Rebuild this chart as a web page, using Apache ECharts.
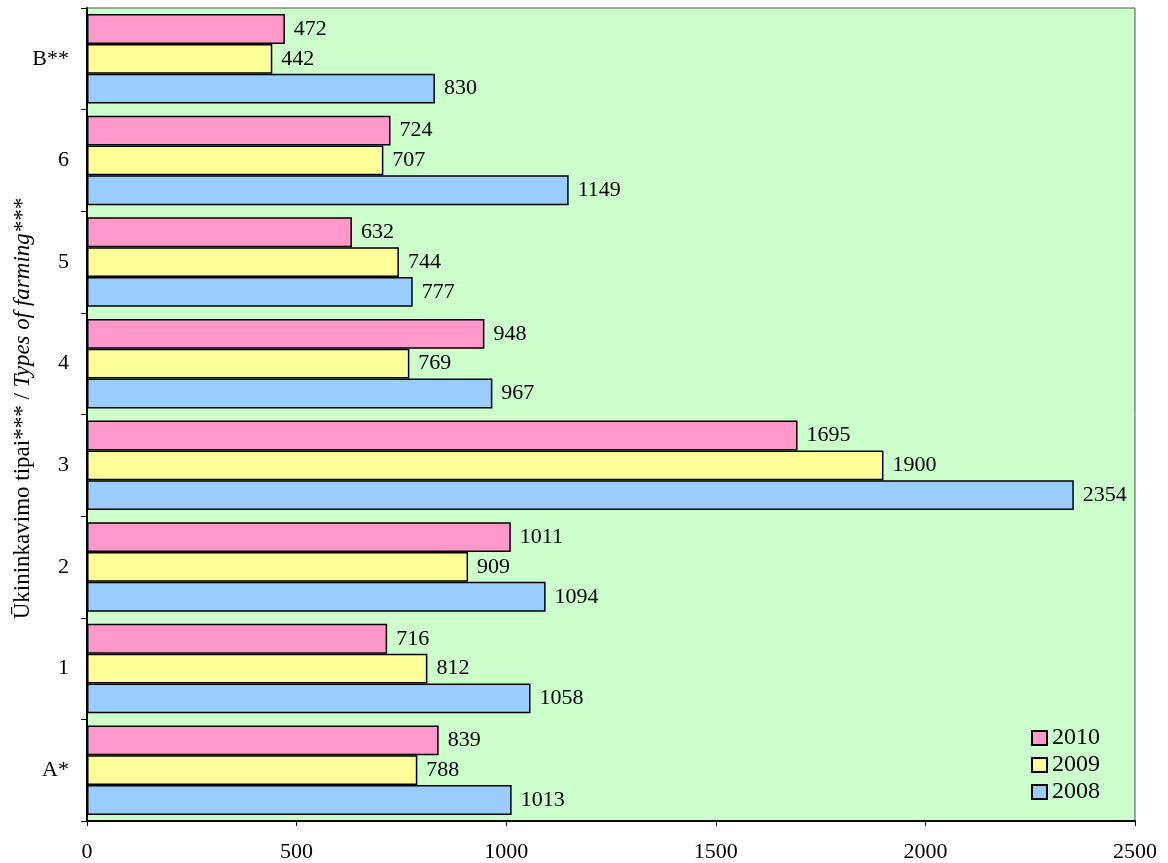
<!DOCTYPE html>
<html><head><meta charset="utf-8">
<script src="https://cdn.jsdelivr.net/npm/echarts@6/dist/echarts.min.js"></script>
<style>html,body{margin:0;padding:0;background:#fff}#c{width:1168px;height:863px}</style>
</head><body><div id="c"></div>
<script>
const categories = ['A*', '1', '2', '3', '4', '5', '6', 'B**'];
const v2008 = [1013, 1058, 1094, 2354, 967, 777, 1149, 830];
const v2009 = [788, 812, 909, 1900, 769, 744, 707, 442];
const v2010 = [839, 716, 1011, 1695, 948, 632, 724, 472];
const xTicks = [0, 500, 1000, 1500, 2000, 2500];
const FONT = '"Liberation Serif", "Times New Roman", serif';

function mk(name, data, color) {
  return {
    name: name, type: 'bar', data: data, barGap: '0%', barCategoryGap: '12%',
    itemStyle: { color: color, borderColor: '#000', borderWidth: 1.5 },
    label: { show: true, position: 'right', distance: 9, color: '#000', fontSize: 22, fontFamily: FONT },
    emphasis: { disabled: true }
  };
}
const chart = echarts.init(document.getElementById('c'));
chart.setOption({
  animation: false,
  textStyle: { fontFamily: FONT },
  grid: { left: 87, top: 8, right: 33, bottom: 41, show: true, backgroundColor: '#CCFFCC', borderColor: '#555', borderWidth: 1 },
  xAxis: {
    type: 'value', min: xTicks[0], max: xTicks[xTicks.length - 1], interval: 500,
    splitLine: { show: false },
    axisLine: { show: true, lineStyle: { color: '#000', width: 2 } },
    axisTick: { show: true, length: 5, lineStyle: { color: '#000' } },
    axisLabel: { color: '#000', fontSize: 22, fontFamily: FONT, margin: 20, formatter: v => String(v) }
  },
  yAxis: {
    type: 'category', data: categories,
    axisLine: { show: true, lineStyle: { color: '#000', width: 2 } },
    axisTick: { show: true, length: 6, lineStyle: { color: '#000' } },
    axisLabel: { color: '#000', fontSize: 22, fontFamily: FONT, margin: 18 }
  },
  legend: {
    orient: 'vertical', right: 63, bottom: 54, itemWidth: 15, itemHeight: 14, itemGap: 3,
    icon: 'rect',
    data: ['2010', '2009', '2008'],
    textStyle: { fontSize: 24, fontFamily: FONT, color: '#000' }
  },
  graphic: [{
    type: 'text', x: 23, y: 409, rotation: Math.PI / 2,
    style: {
      text: '{a|Ūkininkavimo tipai*** / }{b|Types of farming***}',
      textAlign: 'center', textVerticalAlign: 'middle',
      rich: {
        a: { fontSize: 23, fontFamily: FONT, fill: '#000' },
        b: { fontSize: 23, fontFamily: FONT, fontStyle: 'italic', fill: '#000' }
      }
    }
  }],
  series: [mk('2010', v2010, '#FF99CC'), mk('2009', v2009, '#FFFF99'), mk('2008', v2008, '#99CCFF')]
});
</script></body></html>
